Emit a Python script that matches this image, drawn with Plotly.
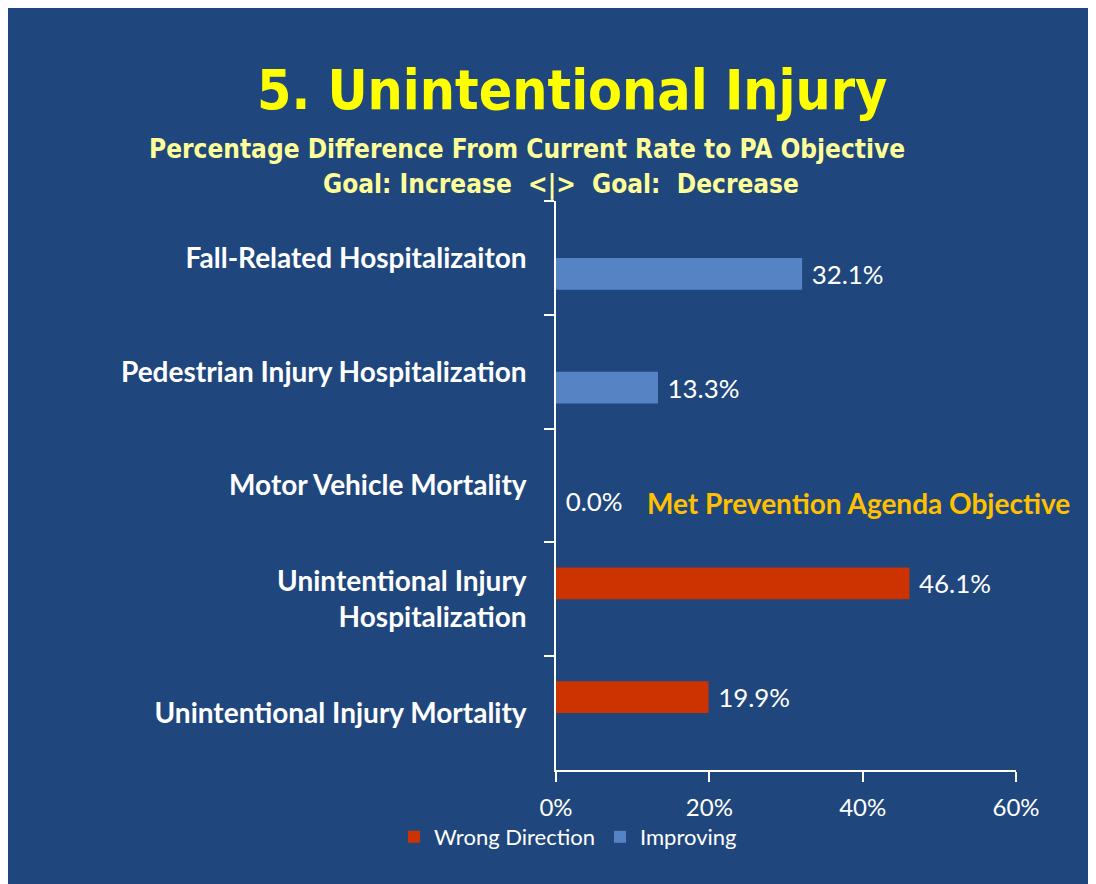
import plotly.graph_objects as go

# Datos
categorias = [
    "Fall-Related Hospitalizaiton",
    "Pedestrian Injury Hospitalization",
    "Motor Vehicle Mortality",
    "Unintentional Injury<br>Hospitalization",
    "Unintentional Injury Mortality",
]
wrong_direction = [None, None, None, 46.1, 19.9]
improving = [32.1, 13.3, 0.0, None, None]
x_ticks = [0, 20, 40, 60]
x_tick_text = ["0%", "20%", "40%", "60%"]

FONDO = "#1F477D"
ROJO = "#CC3300"
AZUL = "#5583C4"
TEXTO = "Lato"
TITULO = "DejaVu Sans Condensed, DejaVu Sans"

# Area del grafico (pixeles de la figura)
L, R, T, B = 548, 88, 193, 122
W, H = 1096, 884
PW, PH = W - L - R, H - T - B


def px(x):
    return (x - L) / PW


def py(y):
    return (H - B - y) / PH


fig = go.Figure()
fig.add_trace(go.Bar(
    y=categorias, x=wrong_direction, orientation="h", name="Wrong Direction",
    marker=dict(color=ROJO, line=dict(width=0)),
    texttemplate="\u00a0%{x:.1f}%", textposition="outside", cliponaxis=False,
    textfont=dict(family=TEXTO, size=26, color="white"),
))
fig.add_trace(go.Bar(
    y=categorias, x=improving, orientation="h", name="Improving",
    marker=dict(color=AZUL, line=dict(width=0)),
    texttemplate="\u00a0%{x:.1f}%", textposition="outside", cliponaxis=False,
    textfont=dict(family=TEXTO, size=26, color="white"),
))

fig.add_annotation(text="<b>5. Unintentional Injury</b>", xref="paper", yref="paper",
                   x=px(564), y=py(82), xanchor="center", yanchor="middle",
                   showarrow=False,
                   font=dict(family=TITULO, size=55, color="#FFFF00"))
fig.add_annotation(text="<b>Percentage Difference From Current Rate to PA Objective</b>",
                   xref="paper", yref="paper",
                   x=px(519), y=py(141), xanchor="center", yanchor="middle",
                   showarrow=False,
                   font=dict(family=TITULO, size=26, color="#FFFF99"))
fig.add_annotation(text="<b>Goal: Increase\u00a0\u00a0<|>\u00a0\u00a0Goal:\u00a0\u00a0Decrease</b>",
                   xref="paper", yref="paper",
                   x=px(553), y=py(176), xanchor="center", yanchor="middle",
                   showarrow=False,
                   font=dict(family=TITULO, size=26, color="#FFFF99"))
fig.add_annotation(text="<b>Met Prevention Agenda Objective</b>", x=11.6, y="Motor Vehicle Mortality",
                   xanchor="left", yanchor="middle", yshift=-17, showarrow=False,
                   font=dict(family=TEXTO, size=28, color="#FFC000"))

fig.update_layout(
    width=W, height=H,
    margin=dict(l=L, r=R, t=T, b=B),
    paper_bgcolor=FONDO,
    plot_bgcolor=FONDO,
    barmode="group",
    bargap=0.44,
    bargroupgap=0,
    showlegend=True,
    legend=dict(orientation="h", x=px(386), y=py(829),
                xanchor="left", yanchor="middle",
                font=dict(family=TEXTO, size=22, color="white"),
                bgcolor="rgba(0,0,0,0)", itemwidth=30),
    xaxis=dict(
        range=[0, 60], tickvals=x_ticks, ticktext=x_tick_text,
        showgrid=False, zeroline=False,
        showline=True, linecolor="white", linewidth=1.5,
        ticks="outside", ticklen=10, tickcolor="white", tickwidth=1.5,
        ticklabelstandoff=5,
        tickfont=dict(family=TEXTO, size=24, color="white"),
    ),
    yaxis=dict(
        categoryorder="array", categoryarray=categorias, autorange="reversed",
        showgrid=False, zeroline=False,
        showline=True, linecolor="white", linewidth=1.5,
        ticks="outside", tickson="boundaries", ticklen=10, tickcolor="white", tickwidth=1.5,
        ticklabelstandoff=22,
        tickfont=dict(family=TEXTO, size=28, color="white", weight="bold"),
    ),
)

fig.write_html("out.html")
